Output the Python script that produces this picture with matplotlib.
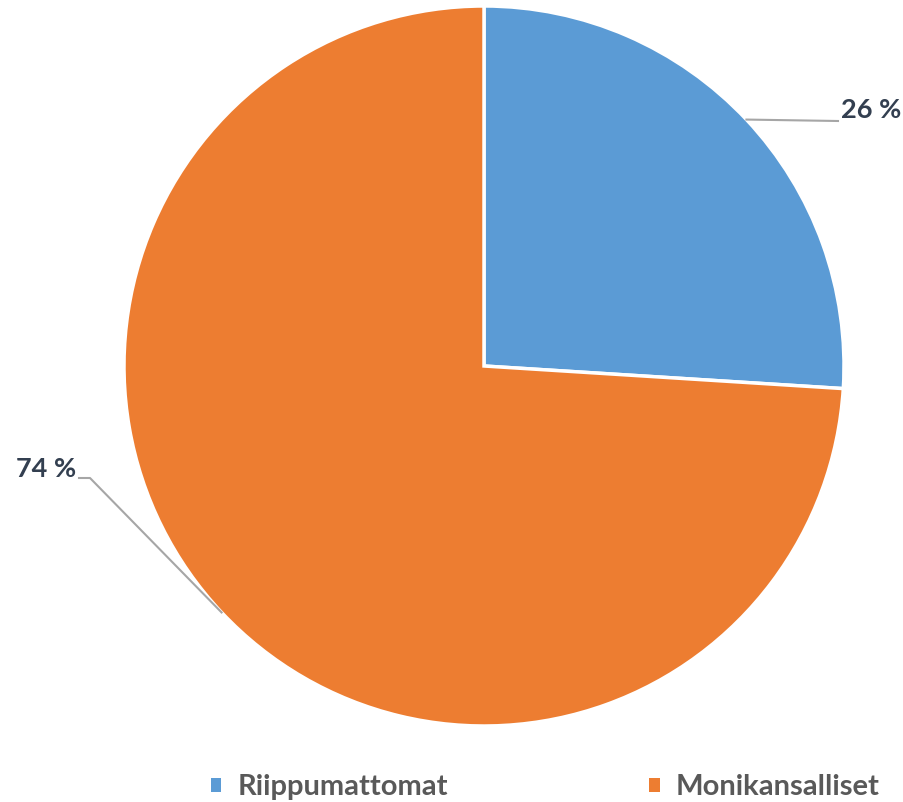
import numpy as np
import matplotlib
matplotlib.use("Agg")
import matplotlib.pyplot as plt

categories = ["Riippumattomat", "Monikansalliset"]
values = [26, 74]
labels = ["26 %", "74 %"]
colors = ["#5B9BD5", "#ED7D31"]

W, H = 904, 802
fig = plt.figure(figsize=(W / 100, H / 100), dpi=100)
ax = fig.add_axes([0, 0, 1, 1])
ax.axis("off")

cx, cy, R = 484, H - 366, 360
font = ["Lato", "DejaVu Sans"]

wedges, _ = ax.pie(values, colors=colors, startangle=90, counterclock=False,
                   center=(cx, cy), radius=R,
                   wedgeprops=dict(edgecolor="white", linewidth=2.5))
ax.set_xlim(0, W)
ax.set_ylim(0, H)
ax.set_aspect("equal")

label_color = "#333F50"
line_color = "#A6A6A6"
for w, lab, side in zip(wedges, labels, [1, -1]):
    mid = np.deg2rad((w.theta1 + w.theta2) / 2)
    px, py = cx + R * np.cos(mid), cy + R * np.sin(mid)
    if side == 1:
        ex, ey = 838, H - 121
        ax.plot([px, ex], [py, ey], color=line_color, lw=1.5)
        ax.text(841, H - 110, lab, ha="left", va="center", fontsize=19.5,
                fontweight="bold", color=label_color, family=font)
    else:
        ex, ey = 90, H - 478
        ax.plot([px, ex, 79], [py, ey, ey], color=line_color, lw=1.5)
        ax.text(76, H - 469, lab, ha="right", va="center", fontsize=19.5,
                fontweight="bold", color=label_color, family=font)

leg = ax.legend(wedges, categories, loc="center left",
                bbox_to_anchor=(211 / W, 15 / H),
                ncol=2, frameon=False, handlelength=0.36, handleheight=0.36,
                handletextpad=0.55, columnspacing=6.9, borderpad=0,
                borderaxespad=0,
                prop=dict(family=font, size=21, weight="bold"))
for t in leg.get_texts():
    t.set_color("#595959")
for h in leg.legend_handles:
    h.set_edgecolor("none")

fig.savefig("out.png", dpi=100)
